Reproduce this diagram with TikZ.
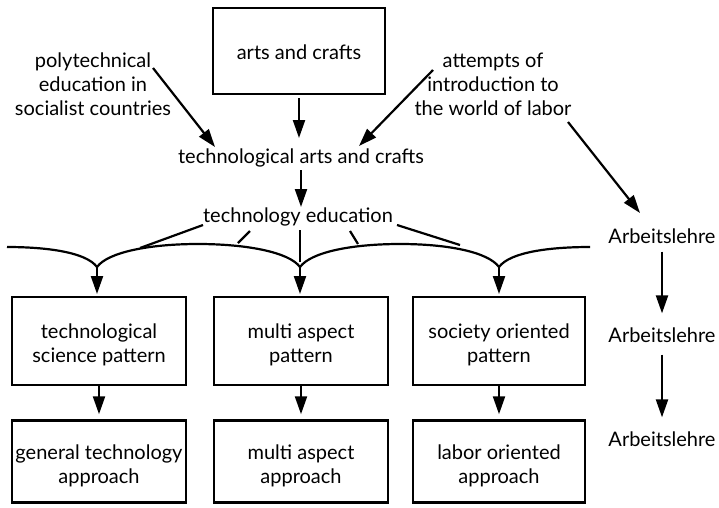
\documentclass[tikz,border=0pt]{standalone}
\usepackage{fontspec}
\setmainfont{Lato}
\usetikzlibrary{arrows.meta}
\newcommand{\shiftdown}[2]{\raisebox{-#1}[\height][\depth]{\begin{tabular}{@{}c@{}}#2\end{tabular}}}
\begin{document}
\begin{tikzpicture}[x=1pt,y=-1pt,
  txt/.style={inner sep=0pt, align=center, font=\fontsize{20}{24}\selectfont},
  box/.style={draw, line width=2.5pt, inner sep=0pt, align=center, font=\fontsize{20}{24}\selectfont},
  conn/.style={line width=2.2pt},
  arr/.style={line width=2.2pt, -{Triangle[length=18pt,width=12pt]}}]
\useasboundingbox (0,0) rectangle (719,507);
% top
\node[box, minimum width=172pt, minimum height=86pt] (ac) at (299,51) {\shiftdown{4pt}{arts and crafts}};
\node[txt] (poly) at (93,84) {polytechnical\\education in\\socialist countries};
\node[txt] (att) at (493,84) {attempts of\\introduction to\\the world of labor};
\node[txt] (tac) at (301,158) {technological arts and crafts};
\node[txt] (te) at (298,217) {technology education};
% Arbeitslehre column
\node[txt] (a1) at (662,236) {Arbeitslehre};
\node[txt] (a2) at (662,335) {Arbeitslehre};
\node[txt] (a3) at (662,439) {Arbeitslehre};
% boxes
\node[box, minimum width=174pt, minimum height=88pt] (b1) at (99,341) {\shiftdown{5pt}{technological\\science pattern}};
\node[box, minimum width=174pt, minimum height=88pt] (b2) at (301,341) {\shiftdown{5pt}{multi aspect\\pattern}};
\node[box, minimum width=172pt, minimum height=88pt] (b3) at (499,341) {\shiftdown{5pt}{society oriented\\pattern}};
\node[box, minimum width=174pt, minimum height=82pt] (c1) at (99,461.5) {\shiftdown{5pt}{general technology\\approach}};
\node[box, minimum width=174pt, minimum height=82pt] (c2) at (301,461.5) {\shiftdown{5pt}{multi aspect\\approach}};
\node[box, minimum width=172pt, minimum height=82pt] (c3) at (499,461.5) {\shiftdown{5pt}{labor oriented\\approach}};
% coordinates
\coordinate (ps) at (153,68);
\coordinate (pt) at (215,147);
\coordinate (qs) at (433,70);
\coordinate (qt) at (359,146);
\coordinate (rs) at (568,122);
\coordinate (rt) at (640,213);
\coordinate (k1) at (97,267);
\coordinate (k2) at (300,267);
\coordinate (k3) at (499,267);
\coordinate (cl) at (7,247);
\coordinate (cr) at (590,247);
% arrows top
\draw[arr] (ps) -- (pt);
\draw[arr] (qs) -- (qt);
\draw[arr] (rs) -- (rt);
\draw[arr] (ac.south) ++(0,3) coordinate (acs) -- (acs |- 0,138) coordinate (acb);
\draw[arr] (301,170) coordinate (tacs) -- (301,207) coordinate (tee);
% curve
\draw[conn] (cl) .. controls (46,247) and (86,252) .. (k1)
  .. controls (108,252) and (150,244) .. (198,244)
  .. controls (246,244) and (289,252) .. (k2)
  .. controls (311,252) and (352,244) .. (400,244)
  .. controls (448,244) and (488,252) .. (k3)
  .. controls (510,252) and (550,247) .. (cr);
% lines from technology education
\draw[conn] (203,225) coordinate (l1a) -- (140,248) coordinate (l1b);
\draw[conn] (250,231) coordinate (l2a) -- (238,243) coordinate (l2b);
\draw[conn] (300,230) coordinate (l3a) -- (300,262) coordinate (l3b);
\draw[conn] (350,231) coordinate (l4a) -- (358,244) coordinate (l4b);
\draw[conn] (397,225) coordinate (l5a) -- (460,245) coordinate (l5b);
% cusp arrows
\draw[arr] (k1) -- (k1 |- 0,294);
\draw[arr] (k2) -- (k2 |- 0,294);
\draw[arr] (k3) -- (k3 |- 0,294);
% box arrows
\draw[arr, shorten >=5pt] (b1.south) -- (c1.north);
\draw[arr, shorten >=5pt] (b2.south) -- (c2.north);
\draw[arr, shorten >=5pt] (b3.south) -- (c3.north);
% Arbeitslehre arrows
\draw[arr, shorten <=8pt, shorten >=14pt] (a1.south) -- (a2.north);
\draw[arr, shorten <=12pt, shorten >=14pt] (a2.south) -- (a3.north);
\end{tikzpicture}
\end{document}
